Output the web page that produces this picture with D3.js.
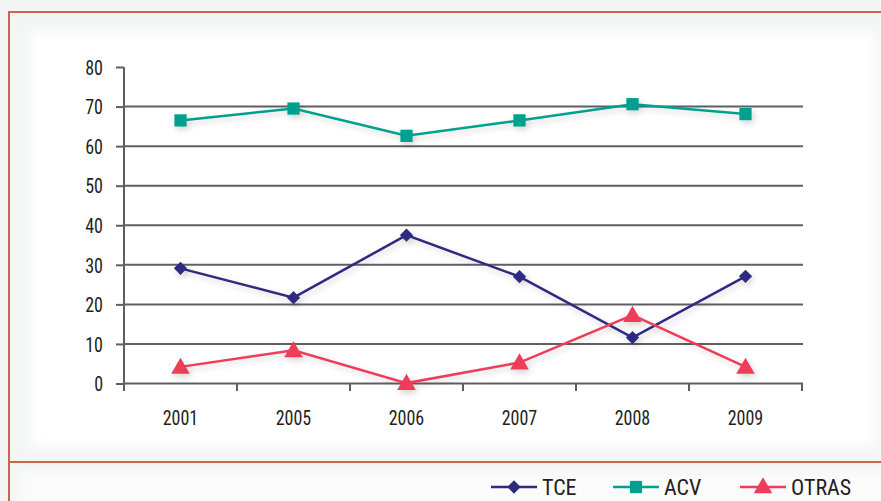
<!DOCTYPE html>
<html><head><meta charset="utf-8">
<script src="https://cdn.jsdelivr.net/npm/d3@7"></script>
<style>
html,body{margin:0;padding:0;background:#f7f8f8;}
svg{display:block;}
text{font-family:"Liberation Sans Narrow","Roboto Condensed","Arial Narrow",sans-serif;fill:#231f20;}
</style></head>
<body>
<svg id="c" width="881" height="501"></svg>
<script>
const categories = ["2001","2005","2006","2007","2008","2009"];
const TCE   = [29.1, 21.7, 37.5, 27.0, 11.6, 27.1];
const ACV   = [66.5, 69.5, 62.6, 66.5, 70.6, 68.1];
const OTRAS = [4.2, 8.4, 0.1, 5.3, 17.3, 4.2];
const yTicks = [0,10,20,30,40,50,60,70,80];
const seriesNames = ["TCE","ACV","OTRAS"];
const seriesColors = ["#2e2a80","#00a08f","#ee3d58"];

const svg = d3.select("#c");
const defs = svg.append("defs");
const f = defs.append("filter").attr("id","sh").attr("x","-50%").attr("y","-50%").attr("width","200%").attr("height","200%");
f.append("feGaussianBlur").attr("in","SourceAlpha").attr("stdDeviation",3);
f.append("feOffset").attr("dx",2).attr("dy",3).attr("result","b");
f.append("feComponentTransfer").append("feFuncA").attr("type","linear").attr("slope",0.18);
const fm = f.append("feMerge"); fm.append("feMergeNode"); fm.append("feMergeNode").attr("in","SourceGraphic");
const bl = defs.append("filter").attr("id","soft").attr("x","-10%").attr("y","-10%").attr("width","120%").attr("height","120%");
bl.append("feGaussianBlur").attr("stdDeviation",6);

// background panels
svg.append("rect").attr("x",0).attr("y",0).attr("width",881).attr("height",501).attr("fill","#f4f5f5");
svg.append("rect").attr("x",30).attr("y",32).attr("width",846).attr("height",414).attr("fill","#ffffff").attr("filter","url(#soft)");
svg.append("rect").attr("x",20).attr("y",472).attr("width",870).attr("height",40).attr("fill","#fbfbfb").attr("filter","url(#soft)");

// border
const bc = "#cd6452";
svg.append("line").attr("x1",9).attr("x2",881).attr("y1",12).attr("y2",12).attr("stroke",bc).attr("stroke-width",2);
svg.append("line").attr("x1",9).attr("x2",9).attr("y1",11).attr("y2",501).attr("stroke",bc).attr("stroke-width",2);
svg.append("line").attr("x1",9).attr("x2",881).attr("y1",462).attr("y2",462).attr("stroke",bc).attr("stroke-width",2);

const x = d3.scaleBand().domain(categories).range([124,802]);
const y = d3.scaleLinear().domain([0,80]).range([383.5,67]);

const g = svg.append("g");
// gridlines
g.selectAll("line.grid").data(yTicks.filter(d=>d>0 && d<80)).join("line")
  .attr("x1",124).attr("x2",803).attr("y1",d=>y(d)).attr("y2",d=>y(d))
  .attr("stroke","#5f5f62").attr("stroke-width",2);

const SX = 0.9;
function squeeze(sel){
  sel.each(function(){
    const t = d3.select(this);
    const xv = +t.attr("x") || 0;
    t.attr("x", xv / SX).attr("transform", `scale(${SX},1)`);
  });
}

// y axis
const yAxis = d3.axisLeft(y).tickValues(yTicks).tickSize(8).tickPadding(13);
const ya = g.append("g").attr("transform","translate(124,0)").call(yAxis);
ya.select(".domain").attr("stroke","#5f5f62").attr("stroke-width",2).attr("d","M0,67V383.5");
ya.selectAll(".tick line").attr("stroke","#5f5f62").attr("stroke-width",2);
ya.selectAll(".tick text").attr("font-size",20).attr("fill","#231f20").attr("dy","0.36em").call(squeeze);

// x axis
const xa = g.append("g").attr("transform","translate(0,383.5)").call(d3.axisBottom(x).tickSize(0).tickPadding(27));
xa.select(".domain").attr("stroke","#5f5f62").attr("stroke-width",2).attr("d","M124,0H803");
xa.selectAll(".tick text").attr("font-size",20).attr("fill","#231f20").call(squeeze);
const bounds = [...categories.map(c=>x(c)), x.range()[1]];
g.selectAll("line.xt").data(bounds).join("line")
  .attr("x1",d=>d).attr("x2",d=>d).attr("y1",383.5).attr("y2",391)
  .attr("stroke","#5f5f62").attr("stroke-width",2);

const cx = c => x(c) + x.bandwidth()/2;
const data = [TCE, ACV, OTRAS];
const symbols = [d3.symbolSquare, d3.symbolSquare, d3.symbolTriangle];
const sizes = [88, 150, 150];
const rot = [45, 0, 0];
const dyOff = [0, 0, 1.5];
const line = d3.line().x((d,i)=>cx(categories[i])).y(d=>y(d));

data.forEach((vals,si)=>{
  const sg = g.append("g").attr("filter","url(#sh)");
  sg.append("path").attr("d",line(vals)).attr("fill","none")
    .attr("stroke",seriesColors[si]).attr("stroke-width",2.5);
  sg.selectAll("path.m").data(vals).join("path")
    .attr("transform",(d,i)=>`translate(${cx(categories[i])},${y(d) + dyOff[si]}) rotate(${rot[si]})`)
    .attr("d",d3.symbol().type(symbols[si]).size(sizes[si]))
    .attr("fill",seriesColors[si]);
});

// legend
const legX = [491, 613, 740];
const lg = svg.append("g");
seriesNames.forEach((n,i)=>{
  const lx = legX[i], ly = 487;
  lg.append("line").attr("x1",lx).attr("x2",lx+46).attr("y1",ly).attr("y2",ly)
    .attr("stroke",seriesColors[i]).attr("stroke-width",2.5);
  lg.append("path").attr("transform",`translate(${lx+23},${ly + (i===2?1:0)}) rotate(${rot[i]})`)
    .attr("d",d3.symbol().type(symbols[i]).size(sizes[i])).attr("fill",seriesColors[i]);
  lg.append("text").attr("x",lx+51).attr("y",ly+7.5).attr("font-size",22).text(n);
});
</script>
</body></html>
